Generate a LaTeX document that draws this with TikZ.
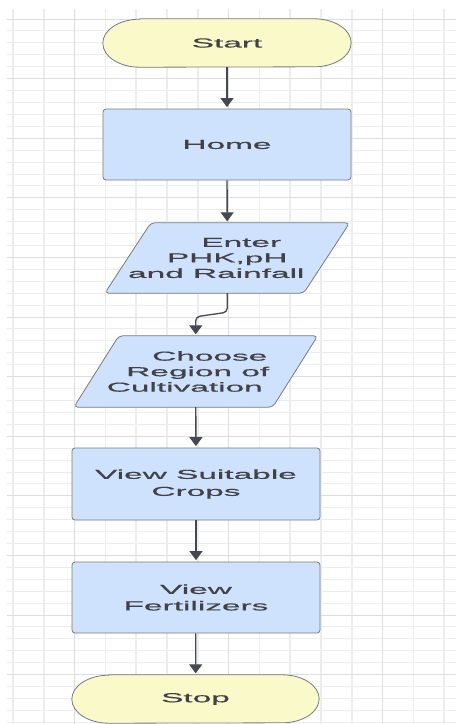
\documentclass[tikz,border=0pt]{standalone}
\usepackage{fontspec}
\newfontfamily\boxfont[FakeStretch=2.57,FakeBold=0.6]{Liberation Sans}
\usetikzlibrary{arrows.meta,calc}
\definecolor{boxblue}{RGB}{207,226,253}
\definecolor{termyellow}{RGB}{250,249,202}
\definecolor{edgegray}{RGB}{118,122,130}
\definecolor{txtgray}{RGB}{66,66,70}
\definecolor{arrgray}{RGB}{68,72,80}
\definecolor{gridminor}{RGB}{237,237,237}
\definecolor{gridmajor}{RGB}{222,222,222}
\pgfdeclarelayer{gridlayer}
\pgfdeclarelayer{shapelayer}
\pgfsetlayers{gridlayer,shapelayer,main}
\begin{document}
\begin{tikzpicture}[x=1pt,y=1pt,
  lbl/.style={font=\boxfont\fontsize{13}{15.5}\selectfont, text=txtgray, align=center, inner sep=0pt},
  holder/.style={lbl, draw=none, rectangle},
  procbox/.style={lbl, rectangle, draw=edgegray, line width=0.8pt, fill=boxblue, rounded corners=3pt, minimum width=248pt},
  termshape/.style={draw=edgegray, line width=0.8pt, fill=termyellow},
  parashape/.style={draw=edgegray, line width=0.8pt, fill=boxblue, rounded corners=4pt},
  arr/.style={draw=arrgray, line width=1.3pt, -{Triangle[width=13pt,length=9pt]}, shorten >=1.5pt},
  gminor/.style={draw=gridminor},
  gmajor/.style={draw=gridmajor}
]
\useasboundingbox (0,0) rectangle (456,-724);

% grid
\begin{pgfonlayer}{gridlayer}
\fill[white] (0,0) rectangle (456,-724);
\foreach \k [evaluate=\k as \yy using -(19+11.92*\k)] in {0,...,59}
  {\draw[gminor, line width=0.9pt] (7,\yy) -- (456,\yy);}
\foreach \k [evaluate=\k as \xx using 13+30.8*\k] in {0,...,14}
  {\draw[gminor, line width=1.6pt] (\xx,-9) -- (\xx,-724);}
\foreach \k [evaluate=\k as \yy using -(19+11.92*\k)] in {0,5,...,55}
  {\draw[gmajor, line width=0.9pt] (7,\yy) -- (456,\yy);}
\foreach \k [evaluate=\k as \xx using 13+30.8*\k] in {2,7,12}
  {\draw[gmajor, line width=1.6pt] (\xx,-9) -- (\xx,-724);}
\end{pgfonlayer}

% nodes
\node[holder, minimum width=248pt, minimum height=48pt] (start) at (227,-43) {Start};
\node[procbox, minimum height=71pt] (home) at (227,-144.5) {Home};
\node[holder, minimum width=196pt, minimum height=70pt] (enter) at (227.25,-258)
  {\hspace*{28pt}Enter\\PHK,pH\\and Rainfall\hspace*{22pt}};
\node[holder, minimum width=198.5pt, minimum height=71pt] (choose) at (195.75,-371.5)
  {\hspace*{28pt}Choose\\\hspace*{4pt}Region of\\Cultivation\hspace*{22pt}};
\node[procbox, minimum height=72pt, font=\boxfont\fontsize{13}{17}\selectfont] (crops) at (196,-484) {View Suitable\\Crops};
\node[procbox, minimum height=71pt, font=\boxfont\fontsize{13}{16.5}\selectfont] (fert) at (196,-597.5) {View\\Fertilizers};
\node[holder, minimum width=247pt, minimum height=48pt] (stop) at (195.5,-699) {Stop};

% outlines of terminals and parallelograms
\begin{pgfonlayer}{shapelayer}
\draw[termshape] ([xshift=37pt]start.north west) -- ([xshift=-37pt]start.north east)
  arc[start angle=90,end angle=-90,x radius=37pt,y radius=24pt]
  -- ([xshift=37pt]start.south west)
  arc[start angle=270,end angle=90,x radius=37pt,y radius=24pt] -- cycle;
\draw[termshape] ([xshift=37pt]stop.north west) -- ([xshift=-37pt]stop.north east)
  arc[start angle=90,end angle=-90,x radius=37pt,y radius=24pt]
  -- ([xshift=37pt]stop.south west)
  arc[start angle=270,end angle=90,x radius=37pt,y radius=24pt] -- cycle;
\draw[parashape] ([xshift=23pt]enter.north west) -- ([xshift=23pt]enter.north east)
  -- ([xshift=-23pt]enter.south east) -- ([xshift=-23pt]enter.south west) -- cycle;
\draw[parashape] ([xshift=22.5pt]choose.north west) -- ([xshift=22.5pt]choose.north east)
  -- ([xshift=-22.5pt]choose.south east) -- ([xshift=-22.5pt]choose.south west) -- cycle;
\end{pgfonlayer}

% connectors
\draw[arr] (start) -- (home);
\draw[arr] (home) -- (enter);
\draw[arr, rounded corners=4pt] (enter.south) -- ($(enter.south)+(0,-19)$)
  -- ($(choose.north)+(0,19)$) -- (choose.north);
\draw[arr] (choose) -- (crops);
\draw[arr] (crops) -- (fert);
\draw[arr] (fert) -- (stop);
\end{tikzpicture}
\end{document}
